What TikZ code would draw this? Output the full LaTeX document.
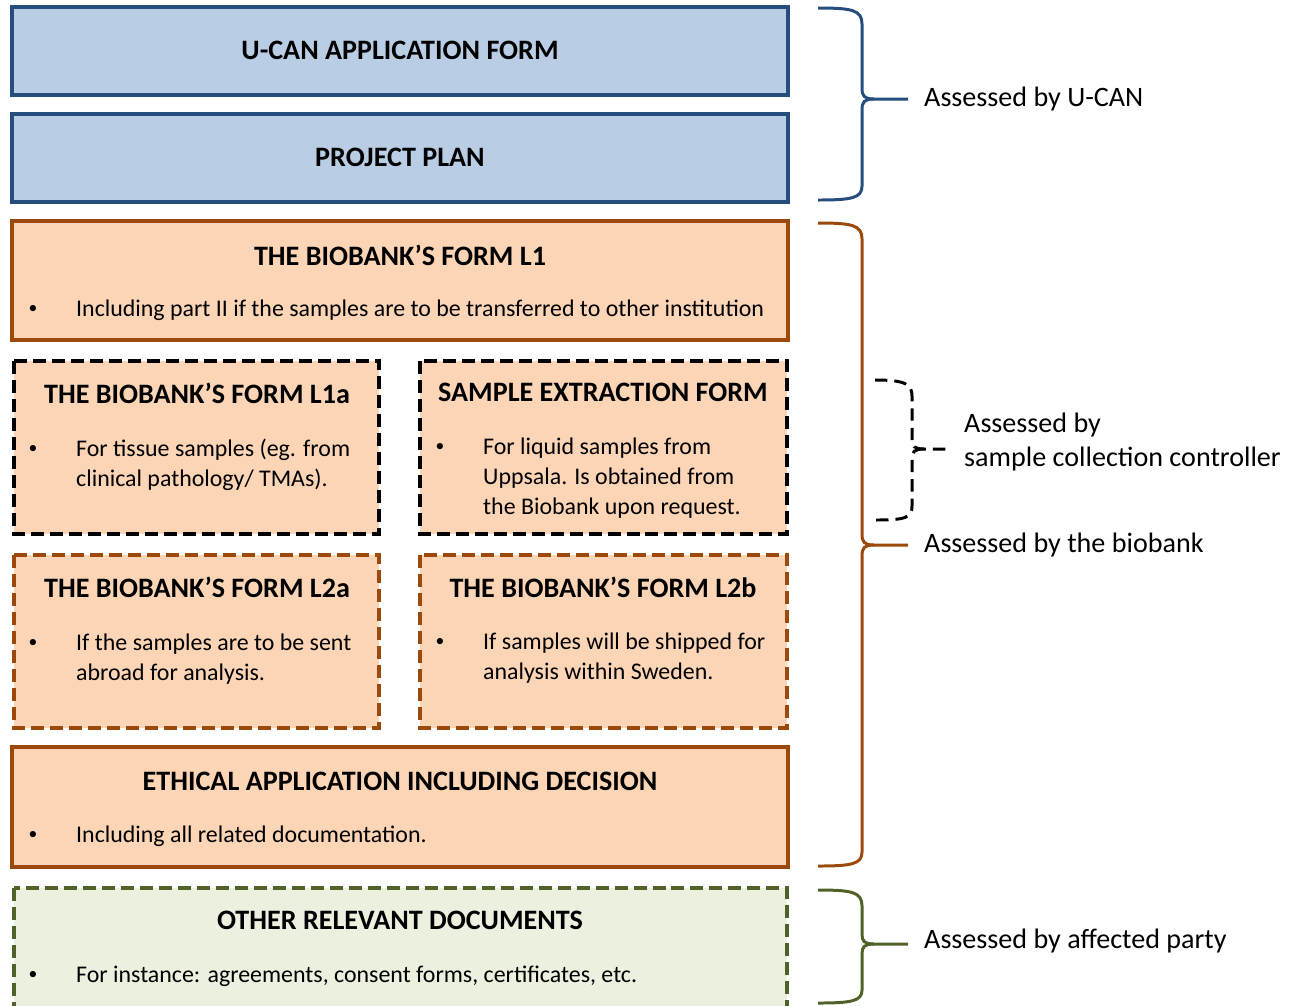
\documentclass[tikz,border=0pt]{standalone}
\usepackage{fontspec}
\setmainfont{Carlito}
\definecolor{ucanfill}{HTML}{B9CDE5}
\definecolor{ucanline}{HTML}{254E7E}
\definecolor{bankfill}{HTML}{FBD5B5}
\definecolor{bankline}{HTML}{9C4A0C}
\definecolor{otherfill}{HTML}{EBF1DE}
\definecolor{otherline}{HTML}{4F6228}
\begin{document}
\begin{tikzpicture}[x=0.02cm,y=-0.02cm]

		\tikzset{
		  box/.style={line width=2.3pt},
		  dashbox/.style={line width=2.3pt,dash pattern=on 7.4pt off 3.4pt},
		  title/.style={anchor=center,font=\fontsize{16}{19}\selectfont\bfseries},
		  bullet/.style={anchor=center,font=\fontsize{10}{12}\selectfont},
		  item/.style={anchor=west,align=left,font=\fontsize{13.6}{17}\selectfont},
		  brace/.style={line width=1.7pt},
		  label/.style={anchor=west,align=left,font=\fontsize{16}{19.3}\selectfont},
		}
		\useasboundingbox (0,0) rectangle (1293,1005);
		\begin{scope}
		\clip (0,0) rectangle (1293,1005);
		% boxes
		\draw[box,fill=ucanfill,draw=ucanline] (12,7) rectangle (788,95);
		\draw[box,fill=ucanfill,draw=ucanline] (12,114) rectangle (788,202);
		\draw[box,fill=bankfill,draw=bankline] (12,221) rectangle (788,340);
		\draw[dashbox,fill=bankfill,draw=black] (14,361) rectangle (379,534);
		\draw[dashbox,fill=bankfill,draw=black] (420,361) rectangle (787,534);
		\draw[dashbox,fill=bankfill,draw=bankline] (14,555) rectangle (379,728);
		\draw[dashbox,fill=bankfill,draw=bankline] (420,555) rectangle (787,728);
		\draw[box,fill=bankfill,draw=bankline] (12,747) rectangle (788,867);
		\draw[dashbox,fill=otherfill,draw=otherline] (14,888) rectangle (787,1010);
		\end{scope}

		\node[title] (ucan) at (400,50) {U-CAN APPLICATION FORM};
		\node[title] (plan) at (400,157) {PROJECT PLAN};
		\node[title] (formL1) at (400,255) {THE BIOBANK’S FORM L1};
		\node[bullet] (dotL1) at (33,309) {•};
		\node[item] (textL1) at (70,310) {Including part II if the samples are to be transferred to other institution};
		\node[title] (formL1a) at (197,393) {THE BIOBANK’S FORM L1a};
		\node[bullet] (dotL1a) at (33,449) {•};
		\node[item] (textL1a) at (70,465) {For tissue samples (eg. from\\clinical pathology/ TMAs).};
		\node[title] (extract) at (603,392) {SAMPLE EXTRACTION FORM};
		\node[bullet] (dotext) at (440,447) {•};
		\node[item] (textext) at (477,478) {For liquid samples from\\Uppsala. Is obtained from\\the Biobank upon request.};
		\node[title] (formL2a) at (197,587) {THE BIOBANK’S FORM L2a};
		\node[bullet] (dotL2a) at (33,643) {•};
		\node[item] (textL2a) at (70,659) {If the samples are to be sent\\abroad for analysis.};
		\node[title] (formL2b) at (603,587) {THE BIOBANK’S FORM L2b};
		\node[bullet] (dotL2b) at (440,642) {•};
		\node[item] (textL2b) at (477,658) {If samples will be shipped for\\analysis within Sweden.};
		\node[title] (ethics) at (400,781) {ETHICAL APPLICATION INCLUDING DECISION};
		\node[bullet] (dotethics) at (33,835) {•};
		\node[item] (textethics) at (70,836) {Including all related documentation.};
		\node[title] (other) at (400,920) {OTHER RELEVANT DOCUMENTS};
		\node[bullet] (dotother) at (33,975) {•};
		\node[item] (textother) at (70,976) {For instance: agreements, consent forms, certificates, etc.};

		% braces
		\draw[brace,color=ucanline] (818,8) .. controls (852,8) and (862,10) .. (862,24) -- (862,88) .. controls (862,96) and (864,99) .. (874,99) -- (908,99);
		\draw[brace,color=ucanline] (874,99) .. controls (864,99) and (862,102) .. (862,110) -- (862,186) .. controls (862,198) and (852,200) .. (818,200);
		\draw[brace,color=bankline] (818,223) .. controls (852,223) and (862,225) .. (862,239) -- (862,534) .. controls (862,542) and (864,545) .. (874,545) -- (908,545);
		\draw[brace,color=bankline] (874,545) .. controls (864,545) and (862,548) .. (862,556) -- (862,852) .. controls (862,864) and (852,866) .. (818,866);
		\draw[brace,color=black,dash pattern=on 7pt off 4pt] (875,380) .. controls (905,380) and (912,384) .. (912,396) -- (912,440) .. controls (912,446) and (914,449) .. (924,449) -- (948,449);
		\draw[brace,color=black,dash pattern=on 7pt off 4pt] (924,449) .. controls (914,449) and (912,452) .. (912,458) -- (912,506) .. controls (912,518) and (905,520) .. (875,520);
		\draw[brace,color=otherline] (818,890) .. controls (852,890) and (862,892) .. (862,906) -- (862,934) .. controls (862,941) and (864,944) .. (874,944) -- (908,944);
		\draw[brace,color=otherline] (874,944) .. controls (864,944) and (862,947) .. (862,954) -- (862,990) .. controls (862,1001) and (852,1003) .. (818,1003);

		\node[label] (byucan) at (918,99) {Assessed by U-CAN};
		\node[label] (bycontroller) at (958,442) {Assessed by\\sample collection controller};
		\node[label] (bybank) at (918,545) {Assessed by the biobank};
		\node[label] (byparty) at (918,941) {Assessed by affected party};

\end{tikzpicture}
\end{document}
